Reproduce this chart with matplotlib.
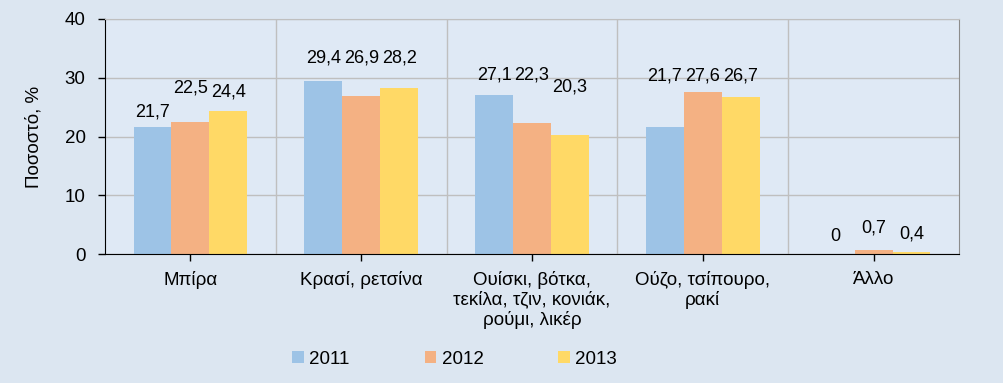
import numpy as np
import matplotlib as mpl
mpl.use('Agg')
import matplotlib.pyplot as plt

plt.rcParams['font.family'] = ['Liberation Sans', 'DejaVu Sans']

categories = ["Μπίρα", "Κρασί, ρετσίνα", "Ουίσκι, βότκα,\nτεκίλα, τζιν, κονιάκ,\nρούμι, λικέρ",
              "Ούζο, τσίπουρο,\nρακί", "Άλλο"]
years = ["2011", "2012", "2013"]
v2011 = [21.7, 29.4, 27.1, 21.7, 0.0]
v2012 = [22.5, 26.9, 22.3, 27.6, 0.7]
v2013 = [24.4, 28.2, 20.3, 26.7, 0.4]
colors = ["#9dc3e6", "#f4b183", "#ffd966"]

# label offsets above bar top (pixels), mimicking excel's staggered labels
label_off = [[15, 23, 20, 51, 18],
             [34, 38, 48, 16, 22],
             [19, 30, 48, 21, 18]]

FS = 13.5

fig = plt.figure(figsize=(10.04, 3.83), dpi=100, facecolor="#dce6f1")
ax = fig.add_axes([0.1046, 0.3368, 0.8506, 0.6136])
ax.set_facecolor("#dfe9f5")

x = np.arange(len(categories))
w = 0.222
series = [v2011, v2012, v2013]
for i, vals in enumerate(series):
    pos = x + (i - 1) * w
    ax.bar(pos, vals, w, color=colors[i], label=years[i], zorder=3)
    for j, v in enumerate(vals):
        ax.annotate(("%g" % v).replace(".", ","), (pos[j], v),
                    xytext=(0, label_off[i][j]), textcoords="offset pixels",
                    ha="center", va="center", fontsize=13, zorder=4)

ax.set_ylim(0, 40)
ax.set_xlim(-0.5, len(categories) - 0.5)
ax.set_yticks([0, 10, 20, 30, 40])
ax.set_xticks(x)
ax.set_xticklabels(categories, fontsize=FS, linespacing=1.15)
ax.tick_params(axis="y", labelsize=FS, length=5, width=1, color="black", pad=9)
ax.tick_params(axis="x", length=5, width=1, color="black", pad=7)
ax.set_ylabel("Ποσοστό, %", fontsize=FS, labelpad=16)

ax.grid(axis="y", color="#bfbfbf", linewidth=1, zorder=0)
for b in np.arange(0.5, len(categories) - 1, 1):
    ax.axvline(b, color="#bfbfbf", linewidth=1, zorder=0)

ax.spines["left"].set_color("black")
ax.spines["bottom"].set_color("black")
ax.spines["top"].set_color("#bfbfbf")
ax.spines["right"].set_color("#8c8c8c")
for s in ax.spines.values():
    s.set_zorder(5)

leg = fig.legend(loc="lower center", bbox_to_anchor=(0.453, -0.005), ncol=3, frameon=False,
                 fontsize=FS, handlelength=0.6, handleheight=0.6, handletextpad=0.3,
                 columnspacing=4.0)

fig.savefig("out.png", dpi=100, facecolor=fig.get_facecolor())
